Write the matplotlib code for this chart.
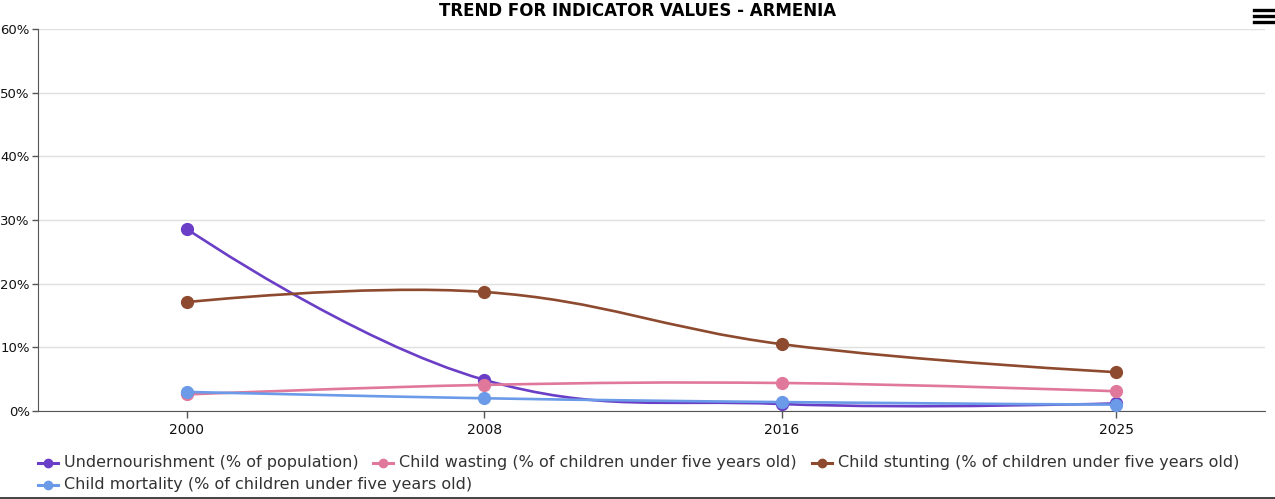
import numpy as np
import matplotlib
matplotlib.use("Agg")
import matplotlib.pyplot as plt
from matplotlib.path import Path
from matplotlib.patches import PathPatch
from matplotlib.lines import Line2D

# ---------------- data ----------------
years = [2000, 2008, 2016, 2025]
undernourishment = [28.6, 4.9, 1.1, 1.2]
child_wasting = [2.6, 4.1, 4.4, 3.1]
child_stunting = [17.1, 18.7, 10.5, 6.1]
child_mortality = [3.0, 2.0, 1.4, 1.0]

series_names = [
    "Undernourishment (% of population)",
    "Child wasting (% of children under five years old)",
    "Child stunting (% of children under five years old)",
    "Child mortality (% of children under five years old)",
]
series_values = [undernourishment, child_wasting, child_stunting, child_mortality]
series_colors = ["#6a3ec6", "#e0789b", "#8d4a2e", "#6b9be8"]

y_ticks = [0, 10, 20, 30, 40, 50, 60]
y_tick_labels = ["0%", "10%", "20%", "30%", "40%", "50%", "60%"]
x_ticks = years
x_tick_labels = ["2000", "2008", "2016", "2025"]
title = "TREND FOR INDICATOR VALUES - ARMENIA"

# ---------------- figure ----------------
W, H = 1275, 499
fig = plt.figure(figsize=(W / 100, H / 100), dpi=100)
plt.rcParams['font.family'] = ['DejaVu Sans']

L, R, T, B = 38, 1265, 29, 411
ax = fig.add_axes([L / W, 1 - B / H, (R - L) / W, (B - T) / H])
ax.set_xlim(1996, 2029)
ax.set_ylim(0, 60)

ax.set_yticks(y_ticks)
ax.set_yticklabels(y_tick_labels)
ax.set_xticks(x_ticks)
ax.set_xticklabels(x_tick_labels)
ax.tick_params(axis='y', length=4, width=1, color="#555555", labelsize=9.5, labelcolor="#111111", pad=2)
ax.tick_params(axis='x', length=5, width=1, color="#555555", labelsize=10, labelcolor="#111111", pad=4)
ax.grid(axis='y', color="#e0e0e0", linewidth=1)
ax.set_axisbelow(True)
for s in ["top", "right"]:
    ax.spines[s].set_visible(False)
ax.spines["left"].set_color("#555555")
ax.spines["bottom"].set_color("#555555")


def spline_path(xs, ys, smoothing=1.5):
    """Highcharts-like spline computed in display space."""
    pts = ax.transData.transform(np.column_stack([xs, ys]))
    px = pts[:, 0]
    py = -pts[:, 1]  # y downward like svg
    n = len(px)
    lc = [None] * n
    rc = [None] * n
    denom = smoothing + 1
    for i in range(1, n - 1):
        lx, ly = px[i - 1], py[i - 1]
        nx, ny = px[i + 1], py[i + 1]
        x, y = px[i], py[i]
        lcx = (smoothing * x + lx) / denom
        lcy = (smoothing * y + ly) / denom
        rcx = (smoothing * x + nx) / denom
        rcy = (smoothing * y + ny) / denom
        dl = np.hypot(lcx - x, lcy - y)
        dr = np.hypot(rcx - x, rcy - y)
        la = np.arctan2(lcy - y, lcx - x)
        ra = np.arctan2(rcy - y, rcx - x)
        corr = np.pi / 2 + (la + ra) / 2
        if abs(la - corr) > np.pi / 2:
            corr -= np.pi
        lcx = x + np.cos(corr) * dl
        lcy = y + np.sin(corr) * dl
        rcx = x + np.cos(np.pi + corr) * dr
        rcy = y + np.sin(np.pi + corr) * dr
        lc[i] = (lcx, lcy)
        rc[i] = (rcx, rcy)
    verts = [(px[0], py[0])]
    codes = [Path.MOVETO]
    for i in range(1, n):
        c1 = rc[i - 1] if rc[i - 1] is not None else (px[i - 1], py[i - 1])
        c2 = lc[i] if lc[i] is not None else (px[i], py[i])
        verts += [c1, c2, (px[i], py[i])]
        codes += [Path.CURVE4] * 3
    verts = np.array(verts)
    verts[:, 1] = -verts[:, 1]
    data_verts = ax.transData.inverted().transform(verts)
    return Path(data_verts, codes)


for vals, col in zip(series_values, series_colors):
    p = spline_path(np.array(years, float), np.array(vals, float))
    ax.add_patch(PathPatch(p, facecolor="none", edgecolor=col, lw=1.9, zorder=3,
                           capstyle="round", joinstyle="round"))
    ax.plot(years, vals, linestyle="none", marker="o", markersize=8.5,
            color=col, zorder=4, clip_on=False)

# title
fig.text(0.5, 1 - 11 / H, title, ha="center", va="center", fontsize=12,
         fontweight="bold", color="#000000")

# menu icon (hamburger)
for yy in [9.5, 15.5, 21.5]:
    fig.add_artist(Line2D([1254 / W, 1273 / W], [1 - yy / H, 1 - yy / H],
                          color="black", lw=2.4, transform=fig.transFigure))

# legend (flow layout like the original)
legend_pos = [(38, 463), (373, 463), (812, 463), (38, 485)]
for (lx, ly), name, col in zip(legend_pos, series_names, series_colors):
    yf = 1 - ly / H
    fig.add_artist(Line2D([lx / W, (lx + 20) / W], [yf, yf], color=col, lw=2.2,
                          transform=fig.transFigure))
    fig.add_artist(Line2D([(lx + 10) / W], [yf], color=col, marker="o", markersize=6,
                          linestyle="none", transform=fig.transFigure))
    fig.text((lx + 26) / W, yf, name, ha="left", va="center", fontsize=11.5,
             color="#333333")

# bottom border line
fig.add_artist(Line2D([0, 1], [1.5 / H, 1.5 / H], color="#222222", lw=1.2,
                      transform=fig.transFigure))

fig.savefig("out.png", dpi=100)
